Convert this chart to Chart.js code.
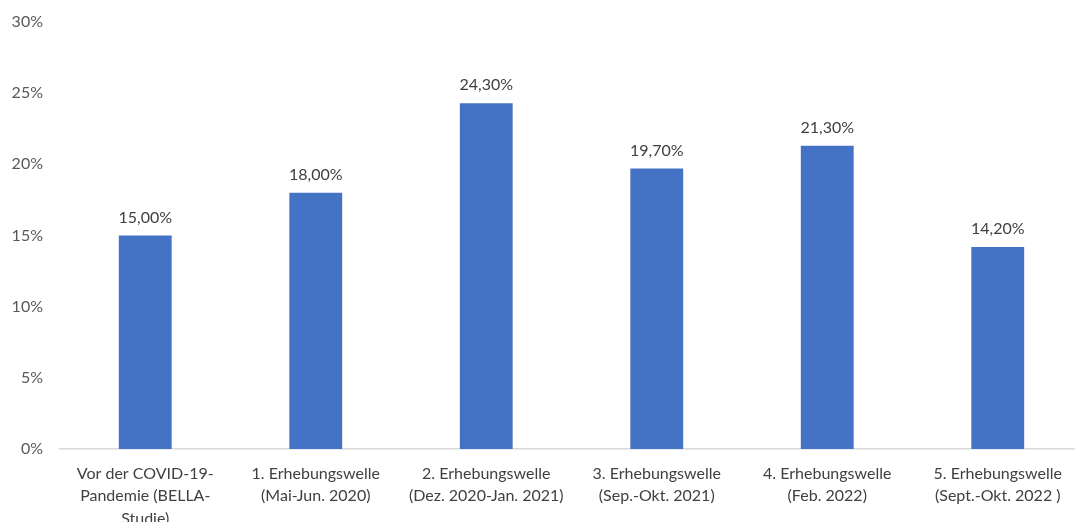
<!DOCTYPE html>
<html>
<head>
<meta charset="utf-8">
<script src="https://cdn.jsdelivr.net/npm/chart.js@4"></script>
<style>
  html, body { margin: 0; padding: 0; background: #fff; overflow: hidden; }
  #wrap { width: 1075px; height: 522px; overflow: hidden; }
</style>
</head>
<body>
<div id="wrap"><canvas id="chartOne" width="1083" height="522"></canvas></div>
<script>
// categories (x axis), multi-line as in the original
const categories = [
    ["Vor der COVID-19-", "Pandemie (BELLA-", "Studie)"],
    ["1. Erhebungswelle", "(Mai-Jun. 2020)"],
    ["2. Erhebungswelle", "(Dez. 2020-Jan. 2021)"],
    ["3. Erhebungswelle", "(Sep.-Okt. 2021)"],
    ["4. Erhebungswelle", "(Feb. 2022)"],
    ["5. Erhebungswelle", "(Sept.-Okt. 2022 )"]
];
const values = [15.0, 18.0, 24.3, 19.7, 21.3, 14.2];
const yTicks = [0, 5, 10, 15, 20, 25, 30];

const fontName = "Lato, 'Liberation Sans', sans-serif";

// value labels above the bars
const barLabels = {
    id: "barLabels",
    afterDatasetsDraw(chart) {
        const ctx = chart.ctx;
        const meta = chart.getDatasetMeta(0);
        ctx.save();
        ctx.font = "16px " + fontName;
        ctx.fillStyle = "#404040";
        ctx.textAlign = "center";
        ctx.textBaseline = "middle";
        meta.data.forEach(function(bar, i) {
            let txt = values[i].toFixed(2).replace(".", ",") + "%";
            ctx.fillText(txt, bar.x, bar.y - 18);
        });
        ctx.restore();
    }
};

function BuildChart(labels, data) {
    var ctx = document.getElementById("chartOne").getContext("2d");
    return new Chart(ctx, {
        type: "bar",
        data: {
            labels: labels,
            datasets: [{
                data: data,
                backgroundColor: "#4472C4",
                barPercentage: 0.31,
                categoryPercentage: 1
            }]
        },
        options: {
            responsive: false,
            animation: false,
            layout: { padding: { top: 22, left: 0, right: 0, bottom: 0 } },
            plugins: { legend: { display: false }, tooltip: { enabled: false } },
            scales: {
                x: {
                    grid: { display: false },
                    border: { display: true, color: "#d9d9d9", width: 1.5 },
                    ticks: {
                        color: "#404040",
                        font: { family: fontName, size: 16, lineHeight: 1.42 },
                        padding: 5,
                        maxRotation: 0,
                        autoSkip: false
                    },
                    afterFit(scale) { scale.height = 73; }
                },
                y: {
                    min: 0,
                    max: 30,
                    afterBuildTicks(scale) { scale.ticks = yTicks.map(v => ({ value: v })); },
                    grid: { display: false },
                    border: { display: false },
                    ticks: {
                        color: "#595959",
                        font: { family: fontName, size: 16 },
                        padding: 9,
                        callback: v => v + "%"
                    },
                    afterFit(scale) { scale.width = 60; }
                }
            }
        },
        plugins: [barLabels]
    });
}

BuildChart(categories, values);
</script>
</body>
</html>
